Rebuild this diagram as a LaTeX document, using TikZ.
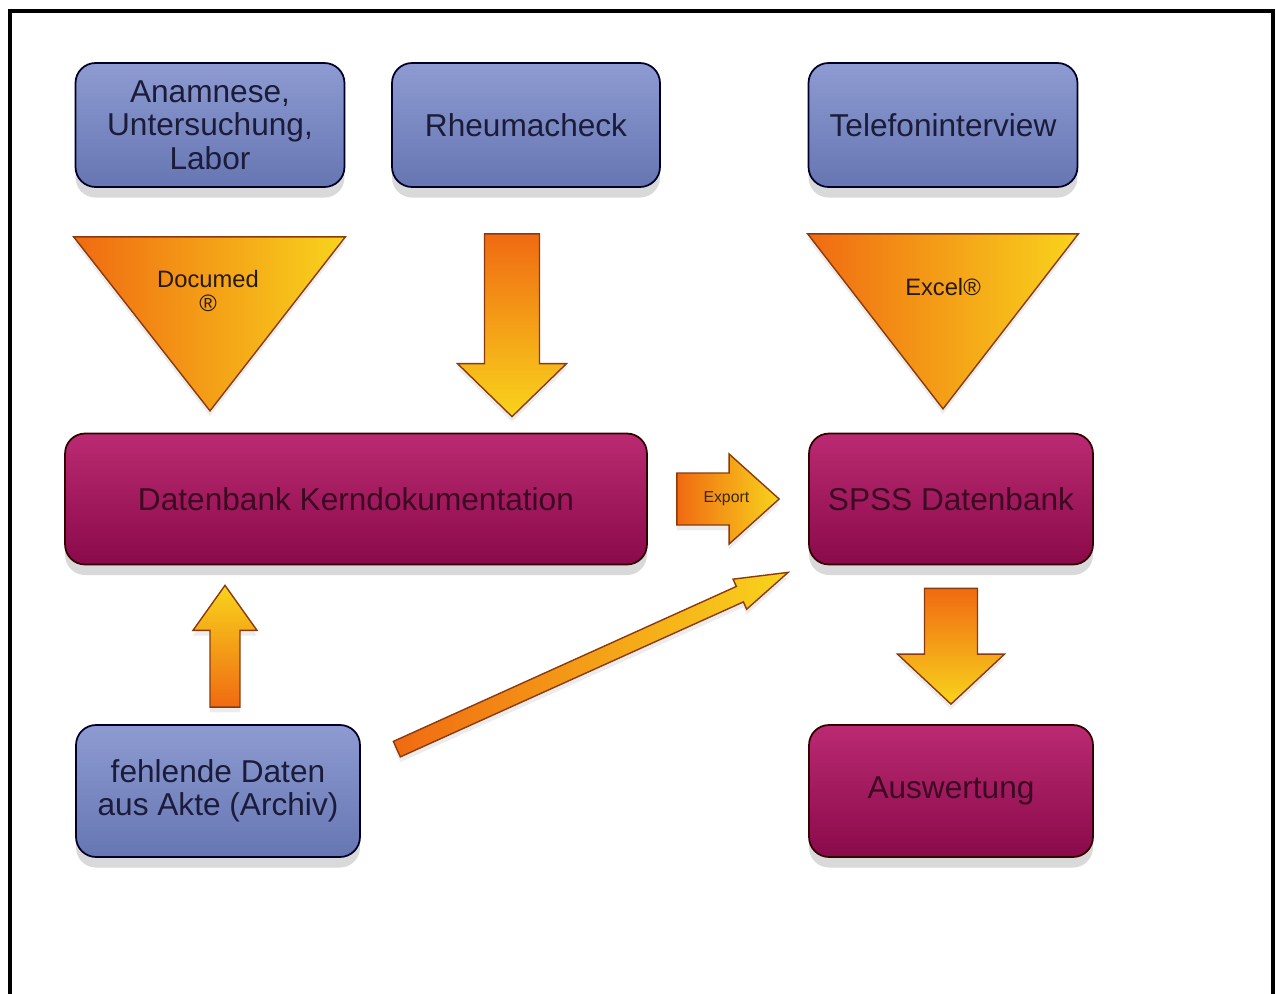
\documentclass[tikz,border=0pt]{standalone}
\usepackage{fontspec}
\setmainfont{Liberation Sans}
\usetikzlibrary{calc,shadows}

\definecolor{blauoben}{HTML}{8E9BD2}
\definecolor{blauunten}{HTML}{6676B2}
\definecolor{blautext}{HTML}{1B1B3A}
\definecolor{rotoben}{HTML}{BA2A72}
\definecolor{rotunten}{HTML}{8A0A4A}
\definecolor{rottext}{HTML}{3C0A22}
\definecolor{pfeilorange}{HTML}{F06A12}
\definecolor{pfeilgelb}{HTML}{F8D41C}
\definecolor{pfeilrand}{HTML}{8B3A0E}

\tikzset{
  kasten/.style={draw=black!85!blue, line width=1pt, rounded corners=0.4cm,
    align=center, font=\fontsize{18}{19}\selectfont,
    drop shadow={shadow xshift=0pt, shadow yshift=-6pt, opacity=.3}},
  blaubox/.style={kasten, top color=blauoben, bottom color=blauunten, text=blautext},
  rotbox/.style={kasten, draw=black!80!red, top color=rotoben, bottom color=rotunten, text=rottext},
  pfeil/.style={draw=pfeilrand, line width=.8pt,
    drop shadow={shadow xshift=0pt, shadow yshift=-3pt, opacity=.15}},
  klein/.style={font=\fontsize{13.5}{13.6}\selectfont, text=black!80!brown, align=center},
}

% dicker Pfeil: [Farbe] {Anfang} {Spitze} {halbe Schaftbreite} {halbe Kopfbreite} {Kopflaenge}
\newcommand{\blockpfeil}[6][]{%
  \coordinate (bp-s) at (#2);
  \coordinate (bp-t) at (#3);
  \coordinate (bp-h) at ($(bp-t)!#6!(bp-s)$);
  \draw[pfeil,#1] ($(bp-s)!#4!90:(bp-t)$) -- ($(bp-h)!#4!90:(bp-t)$)
    -- ($(bp-h)!#5!90:(bp-t)$) -- (bp-t) -- ($(bp-h)!#5!-90:(bp-t)$)
    -- ($(bp-h)!#4!-90:(bp-t)$) -- ($(bp-s)!#4!-90:(bp-t)$) -- cycle;
}

\begin{document}
\begin{tikzpicture}[x=0.02cm, y=-0.02cm]

\useasboundingbox (0,0) rectangle (1276,994);

% Rahmen
\draw[line width=2pt] (10,994) -- (10,11) -- (1273,11) -- (1273,994);

% --- obere Reihe ---
\node[blaubox, minimum width=5.38cm, minimum height=2.48cm] (anam) at (210,125) {Anamnese,\\Untersuchung,\\Labor};
\node[blaubox, minimum width=5.36cm, minimum height=2.48cm] (rheuma) at (526,125) {Rheumacheck};
\node[blaubox, minimum width=5.38cm, minimum height=2.48cm] (tel) at (943,125) {Telefoninterview};

% --- Datenbanken ---
\node[rotbox, minimum width=11.64cm, minimum height=2.62cm] (kern) at (356,499) {Datenbank Kerndokumentation};
\node[rotbox, minimum width=5.68cm, minimum height=2.62cm] (spss) at (951,499) {SPSS Datenbank};

% --- untere Reihe ---
\node[blaubox, minimum width=5.68cm, minimum height=2.64cm] (fehl) at (218,791) {fehlende Daten\\aus Akte (Archiv)};
\node[rotbox, minimum width=5.68cm, minimum height=2.64cm] (ausw) at (951,791) {Auswertung};

% --- Trichter ---
\draw[pfeil, left color=pfeilorange, right color=pfeilgelb]
  ($(anam.south west)+(-1,49)$) -- ($(anam.south east)+(0,49)$) -- ($(anam.south)+(0,223)$) -- cycle;
\node[klein] (docu) at ($(anam.south)+(-2,103)$) {Documed\\®};

\draw[pfeil, left color=pfeilorange, right color=pfeilgelb]
  ($(tel.south west)+(0,46)$) -- ($(tel.south east)+(0,46)$) -- ($(tel.south)+(0,221)$) -- cycle;
\node[klein] (excel) at ($(tel.south)+(0,99)$) {Excel®};

% --- Pfeile ---
\blockpfeil[top color=pfeilorange, bottom color=pfeilgelb]
  {$(rheuma.south)+(-14,46)$}{$(kern.north)+(156,-16)$}{0.55cm}{1.09cm}{1.06cm}
\blockpfeil[bottom color=pfeilorange, top color=pfeilgelb]
  {$(fehl.north)+(7,-17)$}{$(kern.south)+(-131,20)$}{0.3cm}{0.64cm}{0.9cm}
\blockpfeil[top color=pfeilorange, bottom color=pfeilgelb]
  {$(spss.south)+(0,23)$}{$(ausw.north)+(0,-20)$}{0.53cm}{1.07cm}{1cm}
\blockpfeil[left color=pfeilorange, right color=pfeilgelb]
  {$(kern.east)+(29,0)$}{$(spss.west)+(-29,0)$}{0.52cm}{0.9cm}{1cm}
\node[font=\fontsize{9}{9}\selectfont, text=black!70!brown] (export) at ($(kern.east)!.49!(spss.west)$) {Export};
\blockpfeil[left color=pfeilorange, right color=pfeilgelb]
  {$(fehl.north east)+(36,25)$}{$(spss.south west)+(-20,7)$}{0.17cm}{0.33cm}{1.06cm}

\end{tikzpicture}
\end{document}
